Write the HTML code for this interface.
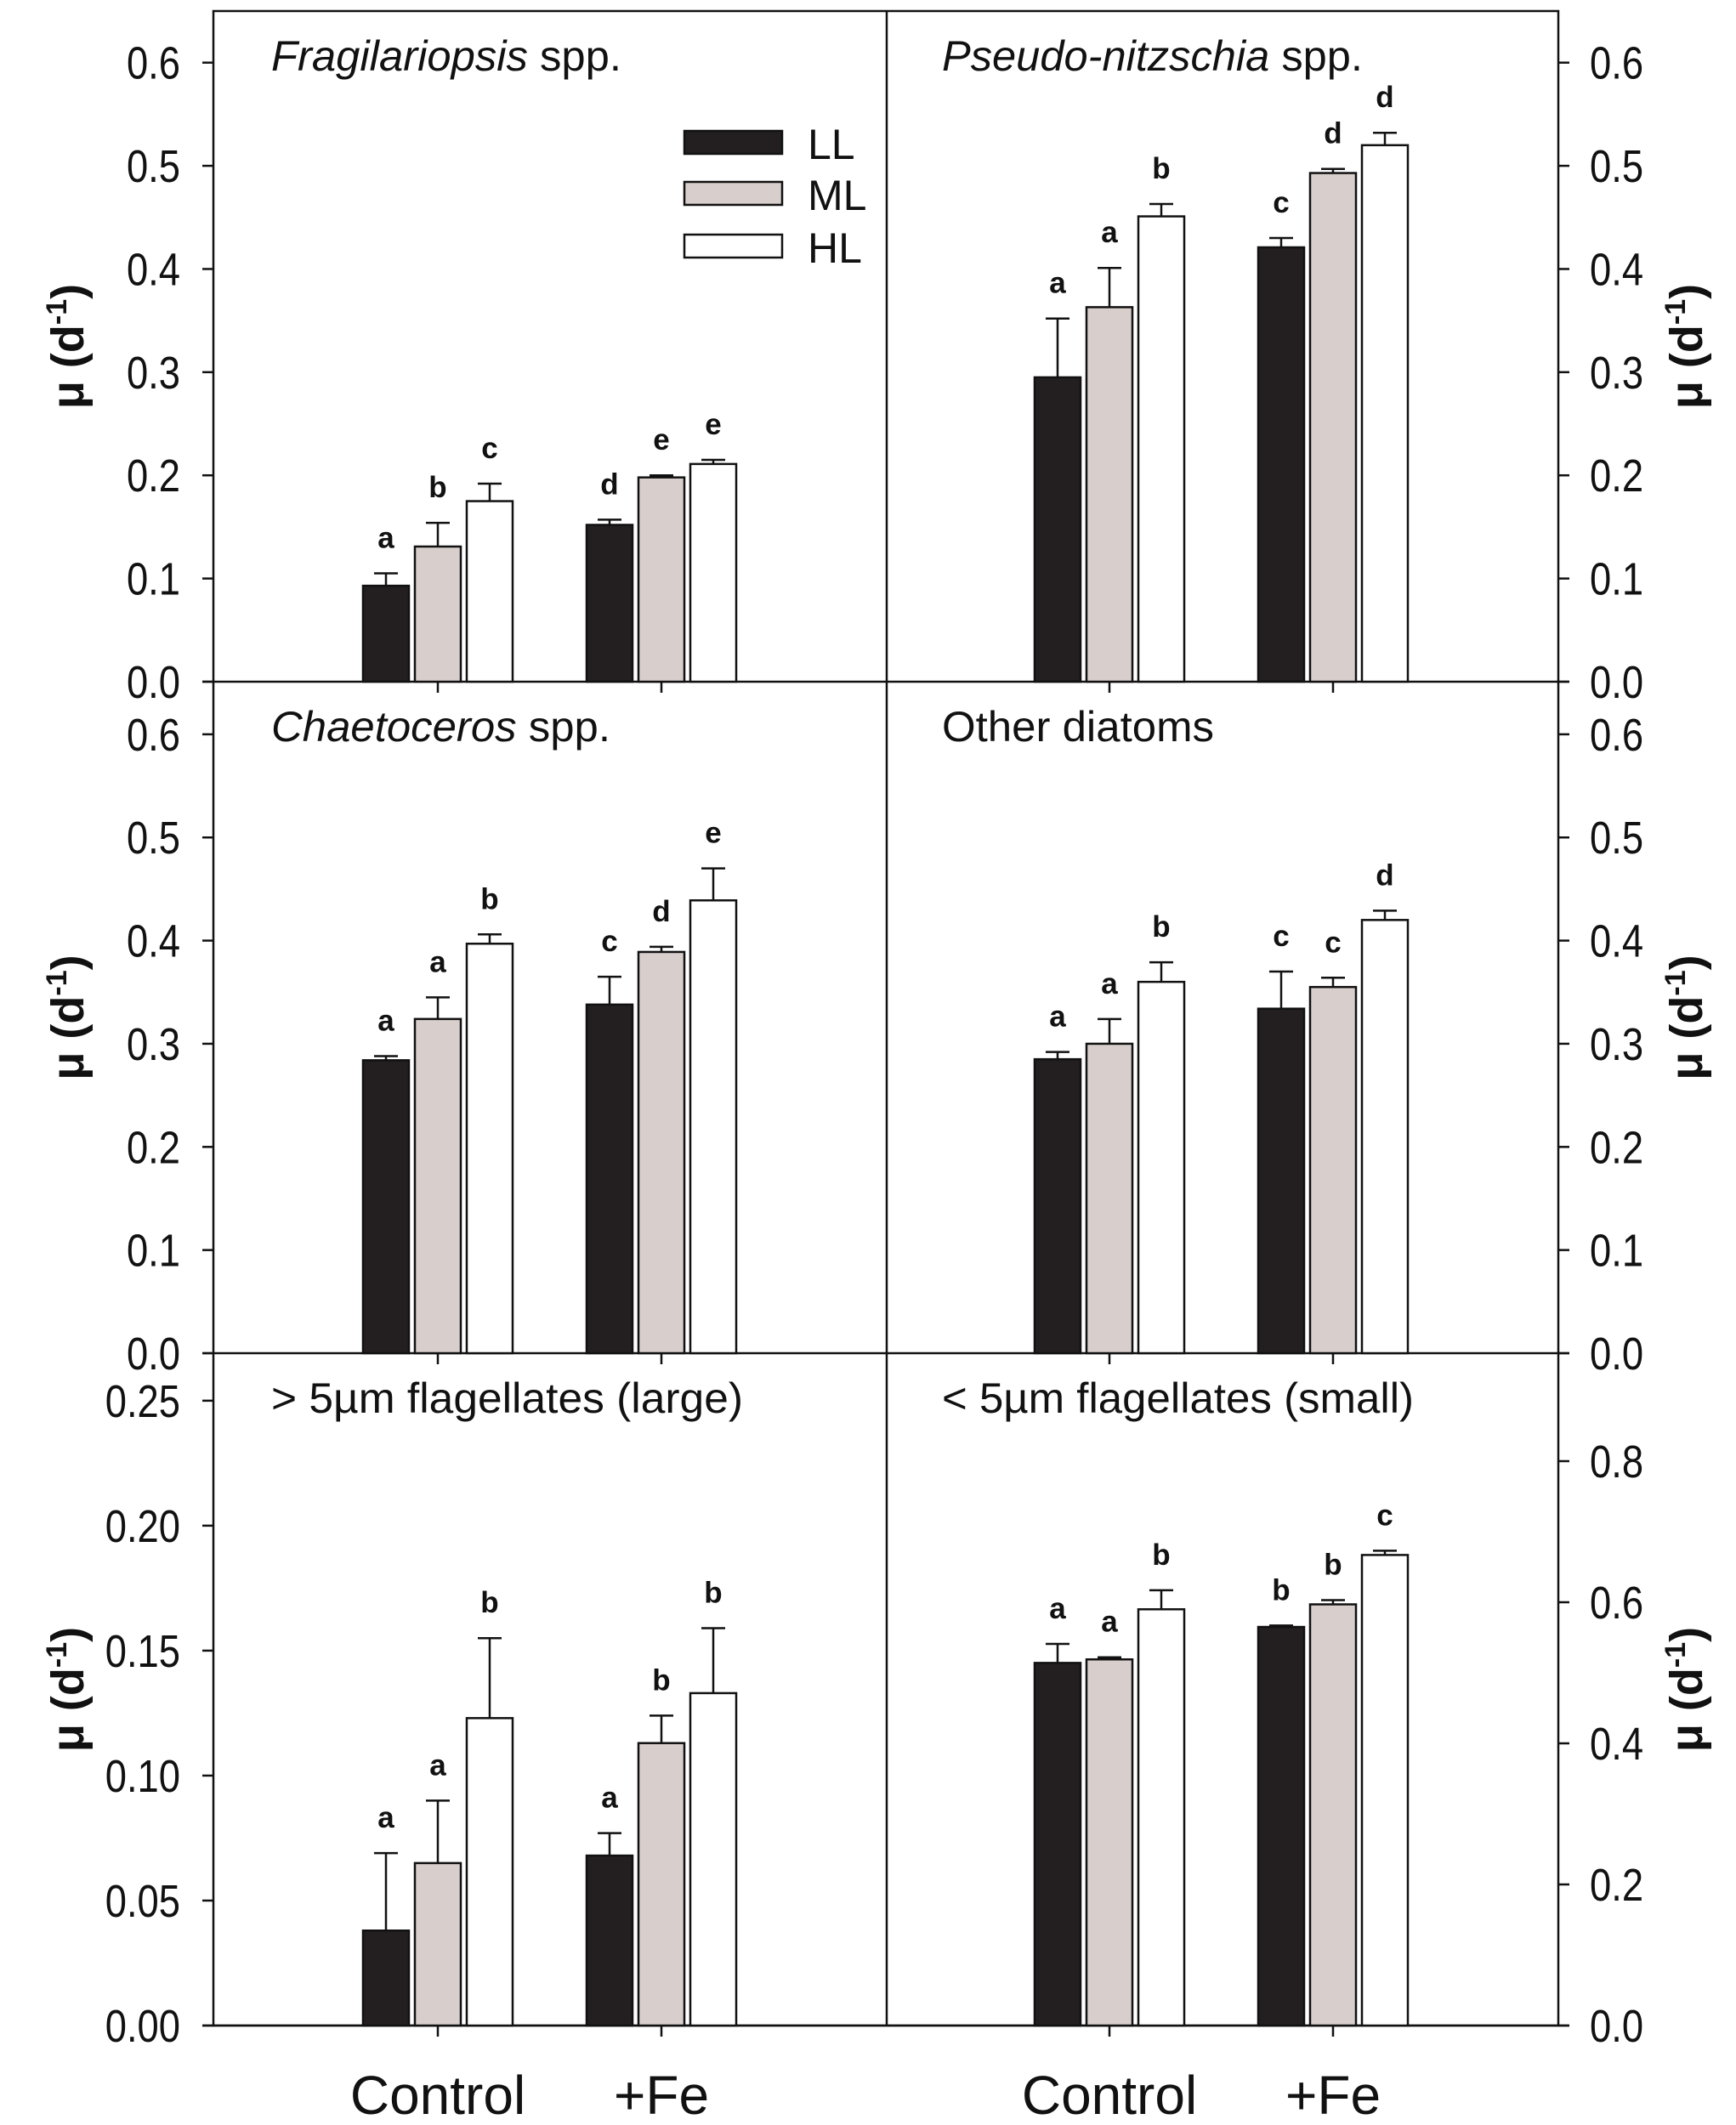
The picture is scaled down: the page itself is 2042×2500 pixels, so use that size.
<!DOCTYPE html>
<html><head><meta charset="utf-8"><style>
html,body{margin:0;padding:0;background:#fff}
svg{display:block}
text{font-family:"Liberation Sans",Arial,sans-serif;fill:#111}
</style></head><body>
<svg id="chart" width="2042" height="2500" viewBox="0 0 2042 2500" xmlns="http://www.w3.org/2000/svg"></svg>
<script>
const groups = ["Control", "+Fe"];
const treatments = ["LL", "ML", "HL"];
const panelTitles = ["Fragilariopsis spp.", "Pseudo-nitzschia spp.", "Chaetoceros spp.", "Other diatoms", "> 5\u00b5m flagellates (large)", "< 5\u00b5m flagellates (small)"];
const fragMeans = [[0.093,0.131,0.175],[0.152,0.198,0.211]];
const fragErr = [[0.012,0.023,0.017],[0.005,0.002,0.004]];
const fragLetters = [["a","b","c"],["d","e","e"]];
const pseudoMeans = [[0.295,0.363,0.451],[0.421,0.493,0.520]];
const pseudoErr = [[0.057,0.038,0.012],[0.009,0.004,0.012]];
const pseudoLetters = [["a","a","b"],["c","d","d"]];
const chaetoMeans = [[0.284,0.324,0.397],[0.338,0.389,0.439]];
const chaetoErr = [[0.004,0.021,0.009],[0.027,0.005,0.031]];
const chaetoLetters = [["a","a","b"],["c","d","e"]];
const otherMeans = [[0.285,0.300,0.360],[0.334,0.355,0.420]];
const otherErr = [[0.007,0.024,0.019],[0.036,0.009,0.009]];
const otherLetters = [["a","a","b"],["c","c","d"]];
const largeMeans = [[0.038,0.065,0.123],[0.068,0.113,0.133]];
const largeErr = [[0.031,0.025,0.032],[0.009,0.011,0.026]];
const largeLetters = [["a","a","b"],["a","b","b"]];
const smallMeans = [[0.514,0.519,0.590],[0.565,0.597,0.667]];
const smallErr = [[0.027,0.003,0.027],[0.002,0.006,0.006]];
const smallLetters = [["a","a","b"],["b","b","c"]];
const ticksTop = ["0.0","0.1","0.2","0.3","0.4","0.5","0.6"];
const ticksLarge = ["0.00","0.05","0.10","0.15","0.20","0.25"];
const ticksSmall = ["0.0","0.2","0.4","0.6","0.8"];

const svg = document.getElementById('chart');
const NS = "http://www.w3.org/2000/svg";
function mk(tag, attrs, parent){ const e=document.createElementNS(NS,tag); for(const k in attrs) e.setAttribute(k,attrs[k]); (parent||svg).appendChild(e); return e; }
function tickWidth(t, fs){ let w=0; for(const ch of t) w += (ch==='.'?0.278:0.556); return w*fs*0.84; }

const colors = ["#231f20","#d8cfcc","#ffffff"];
const L=251, M=1043, R=1833;
const rows=[{top:13,bot:802},{top:802,bot:1592},{top:1592,bot:2383}];
const panels=[
 {col:0,row:0,max:0.650,means:fragMeans,err:fragErr,let:fragLetters,ticks:ticksTop,tw:412,name:"fragilariopsis"},
 {col:1,row:0,max:0.650,means:pseudoMeans,err:pseudoErr,let:pseudoLetters,ticks:ticksTop,tw:495,name:"pseudo-nitzschia"},
 {col:0,row:1,max:0.651,means:chaetoMeans,err:chaetoErr,let:chaetoLetters,ticks:ticksTop,tw:399,name:"chaetoceros"},
 {col:1,row:1,max:0.651,means:otherMeans,err:otherErr,let:otherLetters,ticks:ticksTop,tw:320,name:"other-diatoms"},
 {col:0,row:2,max:0.269,means:largeMeans,err:largeErr,let:largeLetters,ticks:ticksLarge,tw:555,name:"large-flagellates"},
 {col:1,row:2,max:0.953,means:smallMeans,err:smallErr,let:smallLetters,ticks:ticksSmall,tw:555,name:"small-flagellates"}
];

mk('rect',{x:L,y:13,width:R-L,height:2383-13,fill:'none',stroke:'#111','stroke-width':2.5,});
mk('line',{x1:M,y1:13,x2:M,y2:2383,stroke:'#111','stroke-width':2.5,});
rows.forEach((r,i)=>{ if(i>0){ const ln=mk('line',{x1:L-13,y1:r.top,x2:R+13,y2:r.top,stroke:'#111','stroke-width':2.5});
  
   }});
mk('line',{x1:L-13,y1:2383,x2:R+13,y2:2383,stroke:'#111','stroke-width':2.5,});

panels.forEach((p,pi)=>{
  const r=rows[p.row];
  const x0 = p.col===0?L:M;
  const g=mk('g',{});
  
  
  const y=v=> r.bot - v/p.max*(r.bot-r.top);
  const gx=gi=> x0 + (p.col===0? (gi===0?264:527) : (gi===0?262:525));
  p.ticks.forEach(t=>{
    const v=parseFloat(t), yy=y(v);
    const fs=54;
    if(p.col===0){
      const tk=mk('line',{x1:L-13,y1:yy,x2:L,y2:yy,stroke:'#111','stroke-width':2.5},g);
      
      
      const tl=mk('text',{x:212,y:yy+19,'font-size':fs,'text-anchor':'end',textLength:tickWidth(t,fs),lengthAdjust:'spacingAndGlyphs'},g); tl.textContent=t;
      
      
    } else {
      const tk=mk('line',{x1:R,y1:yy,x2:R+13,y2:yy,stroke:'#111','stroke-width':2.5},g);
      
      
      const tl=mk('text',{x:1870,y:yy+19,'font-size':fs,textLength:tickWidth(t,fs),lengthAdjust:'spacingAndGlyphs'},g); tl.textContent=t;
      
      
    }
  });
  groups.forEach((gn,gi)=>{
    const tk=mk('line',{x1:gx(gi),y1:r.bot,x2:gx(gi),y2:r.bot+13,stroke:'#111','stroke-width':2.5},g);
    
    
    treatments.forEach((tn,ti)=>{
      const cx=gx(gi)+(ti-1)*61, v=p.means[gi][ti], e=p.err[gi][ti];
      const yt=y(v), ye=y(v+e);
      const eb=mk('line',{x1:cx,y1:yt,x2:cx,y2:ye,stroke:'#111','stroke-width':2.5},g);
      
      
      const cap=mk('line',{x1:cx-14,y1:ye,x2:cx+14,y2:ye,stroke:'#111','stroke-width':2.5},g);
      
      
      const b=mk('rect',{x:cx-27,y:yt,width:54,height:r.bot-yt,fill:colors[ti],stroke:'#111','stroke-width':2.5},g);
      
      
      const lt=mk('text',{x:cx,y:ye-30,'font-size':35,'font-weight':'bold','text-anchor':'middle'},g);
      lt.textContent=p.let[gi][ti];
      
      
    });
  });
  const tx = p.col===0? 319:1108;
  const ty = r.top+70;
  const tt=mk('text',{x:tx,y:ty,'font-size':50,textLength:p.tw,lengthAdjust:'spacingAndGlyphs'},g);
  
  
  const t=panelTitles[pi];
  if(t.endsWith(' spp.')){
    const s1=mk('tspan',{'font-style':'italic'},tt); s1.textContent=t.slice(0,-5);
    const s2=mk('tspan',{},tt); s2.textContent=' spp.';
  } else tt.textContent=t;
  const cy=(r.top+r.bot)/2;
  const lx = p.col===0? 98: 2002;
  const yl=mk('text',{x:lx,y:cy,'font-size':54,'font-weight':'bold','text-anchor':'middle',transform:`rotate(-90 ${lx} ${cy})`},g);
  
  
  const a=mk('tspan',{},yl); a.textContent='\u03bc (d';
  const b2=mk('tspan',{dy:-20,'font-size':34},yl); b2.textContent='-1';
  const c=mk('tspan',{dy:20},yl); c.textContent=')';
});

[[515,"Control"],[778,"+Fe"],[1305,"Control"],[1568,"+Fe"]].forEach(([x,t])=>{
  const e=mk('text',{x:x,y:2487,'font-size':64,'text-anchor':'middle'}); e.textContent=t;
  
  
});

const lg=mk('g',{});
[[154,"LL"],[214,"ML"],[276,"HL"]].forEach(([yy,t],i)=>{
  const r=mk('rect',{x:805,y:yy,width:115,height:27,fill:colors[i],stroke:'#111','stroke-width':2.5},lg);
  
  
  const tx=mk('text',{x:950,y:yy+33,'font-size':50},lg); tx.textContent=t;
  
  
});
</script>
</body></html>
